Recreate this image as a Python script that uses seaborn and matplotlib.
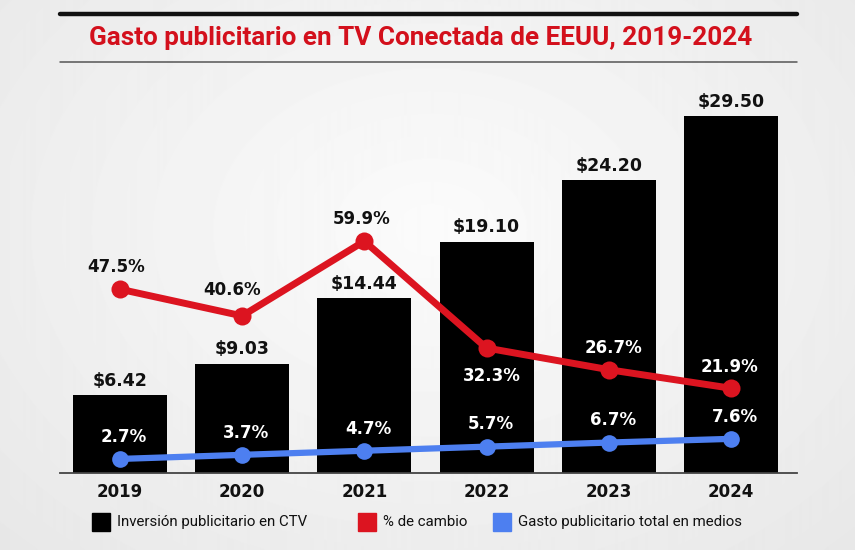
import numpy as np
import matplotlib
matplotlib.use("Agg")
import matplotlib.pyplot as plt
import seaborn as sns
from matplotlib.lines import Line2D
from matplotlib.patches import Rectangle

# datos
years = ["2019", "2020", "2021", "2022", "2023", "2024"]
ctv_spend = [6.42, 9.03, 14.44, 19.10, 24.20, 29.50]
pct_change = [47.5, 40.6, 59.9, 32.3, 26.7, 21.9]
share_total = [2.7, 3.7, 4.7, 5.7, 6.7, 7.6]
legend_labels = ["Inversión publicitario en CTV", "% de cambio",
                 "Gasto publicitario total en medios"]

RED = "#dc1420"
BLUE = "#4d7ff0"
TITLE_RED = "#d3101c"

sns.set_theme(style="white")
plt.rcParams["font.family"] = ["DejaVu Sans"]

fig = plt.figure(figsize=(8.55, 5.5), dpi=100)

# fondo con degradado gris
bg = fig.add_axes([0, 0, 1, 1], zorder=-10)
yy, xx = np.mgrid[0:550, 0:855]
r = np.sqrt(((xx - 430) / 700) ** 2 + ((yy - 230) / 520) ** 2)
bg.imshow(0.985 - 0.09 * r, cmap="gray", vmin=0, vmax=1, aspect="auto")
bg.axis("off")

ax = fig.add_axes([60 / 855, 77 / 550, 737 / 855, 383 / 550])
ax.patch.set_alpha(0)
sns.barplot(x=years, y=ctv_spend, color="black", width=0.77, saturation=1,
            edgecolor="black", linewidth=0, ax=ax, zorder=2)
ax.set_xlim(-0.49, 5.54)
ax.set_ylim(0, 383 / 12.1)
for i, v in enumerate(ctv_spend):
    ax.text(i, v + 0.45, f"${v:.2f}", ha="center", va="bottom",
            fontsize=12.5, fontweight="bold", color="#111111")

# % de cambio
ax2 = ax.twinx()
x = np.arange(len(years))
sns.lineplot(x=x, y=pct_change, color=RED, linewidth=5, marker="o",
             markersize=13, markeredgewidth=0, ax=ax2, zorder=3)
ax2.set_ylim(0, 383 / 3.87)
pct_off = [(-4, 22), (-10, 26), (-3, 22), (5, -28), (5, 22), (-1, 21)]
pct_col = ["#111111", "#111111", "#111111", "white", "white", "white"]
for i, v in enumerate(pct_change):
    dx, dy = pct_off[i]
    ax2.annotate(f"{v}%", (i, v), xytext=(dx * 0.72, dy * 0.72),
                 textcoords="offset points", ha="center", va="center",
                 fontsize=12, fontweight="bold", color=pct_col[i])

# gasto total
ax3 = ax.twinx()
sns.lineplot(x=x, y=share_total, color=BLUE, linewidth=4.5, marker="o",
             markersize=12, markeredgewidth=0, ax=ax3, zorder=3)
ax3.set_ylim(-0.73, 92.7)
for i, v in enumerate(share_total):
    ax3.annotate(f"{v}%", (i, v), xytext=(3, 16), textcoords="offset points",
                 ha="center", va="center", fontsize=12, fontweight="bold",
                 color="white")

for a in (ax, ax2, ax3):
    for s in ("top", "right", "left"):
        a.spines[s].set_visible(False)
    a.spines["bottom"].set_visible(a is ax)
    a.set_yticks([])
    a.set_ylabel("")
ax.spines["bottom"].set_color("#444444")
ax.spines["bottom"].set_linewidth(1.3)
ax.set_xticks(x)
ax.set_xticklabels(years, fontsize=12, fontweight="bold", color="#111111")
ax.tick_params(axis="x", length=0, pad=7)
ax.set_xlabel("")

# título y líneas
fig.add_artist(Line2D([60 / 855, 797 / 855], [1 - 14 / 550, 1 - 14 / 550],
                      color="#111111", linewidth=3.2, transform=fig.transFigure))
fig.add_artist(Line2D([60 / 855, 797 / 855], [1 - 62 / 550, 1 - 62 / 550],
                      color="#555555", linewidth=1.1, transform=fig.transFigure))
fig.text(421 / 855, 1 - 38 / 550, "Gasto publicitario en TV Conectada de EEUU, 2019-2024",
         ha="center", va="center", fontsize=18.8, fontweight="bold",
         color=TITLE_RED, family="Roboto")

# leyenda
leg_x = [92, 358, 493]
leg_col = ["black", RED, BLUE]
for lx, lc, lab in zip(leg_x, leg_col, legend_labels):
    fig.add_artist(Rectangle((lx / 855, 1 - 531 / 550), 18 / 855, 18 / 550,
                             color=lc, transform=fig.transFigure))
    fig.text((lx + 25) / 855, 1 - 522 / 550, lab, ha="left", va="center",
             fontsize=10.8, color="#111111", family="Roboto")

fig.savefig("out.png", dpi=100)
